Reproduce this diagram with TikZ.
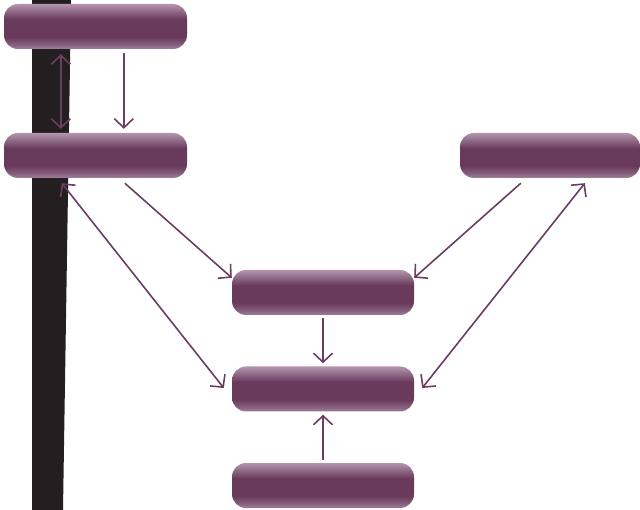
\documentclass[tikz,border=0pt]{standalone}
\usetikzlibrary{arrows.meta,calc}
\definecolor{barcol}{HTML}{231F20}
\definecolor{linecol}{HTML}{6B3D60}
\definecolor{boxtop}{HTML}{B494AC}
\definecolor{boxtopb}{HTML}{94708C}
\definecolor{boxmid}{HTML}{6A3A5C}
\definecolor{boxbot}{HTML}{A0809A}
\definecolor{boxbotb}{HTML}{86607E}
\pgfdeclareverticalshading{boxshade}{100bp}{color(0bp)=(boxbot); color(25bp)=(boxbot); color(30bp)=(boxbotb); color(38bp)=(boxmid); color(58bp)=(boxmid); color(68bp)=(boxtopb); color(75bp)=(boxtop); color(100bp)=(boxtop)}
\begin{document}
\begin{tikzpicture}[x=1pt,y=-1pt,
  box/.style={rectangle, rounded corners=14pt, minimum height=45pt, inner sep=0pt,
    shading=boxshade, draw=none},
  tip/.tip={Straight Barb[length=9pt,width=19pt]},
  conn/.style={draw=linecol, line width=1.6pt, -tip},
  dconn/.style={draw=linecol, line width=1.6pt, tip-tip}]
\useasboundingbox (0,0) rectangle (640,510);
\fill[barcol] (32,0) -- (71,0) -- (63,510) -- (32,510) -- cycle;
\node[box, minimum width=183pt] (A) at (95.5,26.5) {};
\node[box, minimum width=183pt] (B) at (95.5,155.5) {};
\node[box, minimum width=180pt] (C) at (550,155.5) {};
\node[box, minimum width=182pt] (D) at (323,292.5) {};
\node[box, minimum width=182pt] (E) at (323,389) {};
\node[box, minimum width=182pt] (F) at (323,485.5) {};
\draw[dconn] ($(A.south west)+(57,5)$) -- ($(B.north west)+(57,-4)$);
\draw[conn] ($(A.south west)+(120,4)$) -- ($(B.north west)+(120,-4)$);
\draw[conn] ($(B.south west)+(121,5)$) -- ($(D.north west)+(0,8)$);
\draw[conn] ($(C.south west)+(61,5)$) -- ($(D.north east)+(0,8)$);
\draw[conn] ($(D.south)+(0,3)$) -- ($(E.north)+(0,-3)$);
\draw[conn] ($(F.north)+(0,-3)$) -- ($(E.south)+(0,3)$);
\draw[dconn] ($(E.west)+(-8,-1)$) -- ($(B.south west)+(58,5)$);
\draw[dconn] ($(E.east)+(8,-1)$) -- ($(C.south west)+(125,5)$);
\end{tikzpicture}
\end{document}
